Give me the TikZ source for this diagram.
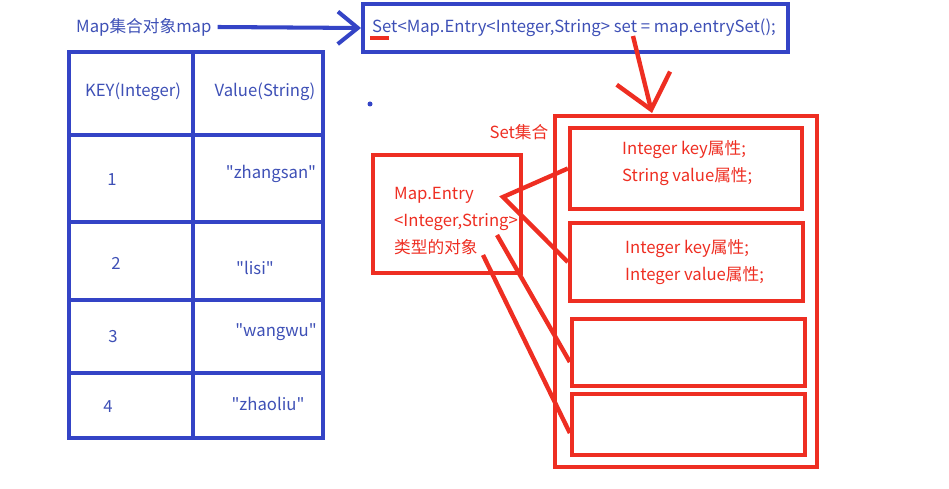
\documentclass[tikz,border=0pt]{standalone}
\usepackage{fontspec}
\setmainfont{Noto Sans CJK SC}
\usetikzlibrary{arrows.meta}
\definecolor{penblue}{RGB}{52,68,198}
\definecolor{inkblue}{RGB}{62,80,182}
\definecolor{penred}{RGB}{238,46,34}
\tikzset{
  bline/.style={penblue,line width=2.3pt},
  rline/.style={penred,line width=2.5pt},
  rbox/.style={draw=penred,line width=2.5pt,inner sep=0pt},
  btext/.style={text=inkblue},
  rtext/.style={text=penred}
}
\begin{document}
\begin{tikzpicture}[x=0.02cm,y=-0.02cm,every node/.style={font=\fontsize{9.5}{15.4}\selectfont}]
            \useasboundingbox (0,0) rectangle (949,489);

            \draw[bline] (69,52) rectangle (323,438);
            \draw[bline] (193,52) -- (193,438);
            \draw[bline] (69,135) -- (323,135);
            \draw[bline] (69,222) -- (325,222);
            \draw[bline] (69,300) -- (325,300);
            \draw[bline] (69,373) -- (323,373);

            \node[btext] (k_0) at (133,92) {KEY(Integer)};
            \node[btext] (v_0) at (265,92) {Value(String)};
            \node[btext] (k_1) at (112,180) {1};
            \node[btext] (v_1) at (271,174) {\textquotedbl zhangsan\textquotedbl};
            \node[btext] (k_2) at (116,263) {2};
            \node[btext] (v_2) at (255,268) {\textquotedbl lisi\textquotedbl};
            \node[btext] (k_3) at (113,337) {3};
            \node[btext] (v_3) at (276,332) {\textquotedbl wangwu\textquotedbl};
            \node[btext] (k_4) at (108,407) {4};
            \node[btext] (v_4) at (268,404) {\textquotedbl zhaoliu\textquotedbl};

            \node[btext,anchor=west] (map) at (70,27) {Map集合对象map};
            \node[draw=penblue,line width=2.3pt,minimum width=8.5cm,minimum height=0.96cm,inner sep=0pt] (code) at (575.5,28) {};
            \node[btext,anchor=west] (codetxt) at (366,28) {Set<Map.Entry<Integer,String> set = map.entrySet();};
            \draw[bline,-{Straight Barb[length=0.4cm,width=0.65cm]}] (map.east) -- (code.west);
            \draw[penred,line width=2pt] (370,38) -- (389,38);
            \fill[penblue] (370,104) circle (0.05cm);

            \node[rbox,minimum width=5.24cm,minimum height=7.02cm] (set) at (686,291.5) {};
            \node[rbox,minimum width=4.64cm,minimum height=1.62cm] (e_1) at (686,168.5) {};
            \node[rbox,minimum width=4.66cm,minimum height=1.56cm] (e_2) at (686.5,262) {};
            \node[rbox,minimum width=4.66cm,minimum height=1.34cm] (e_3) at (688.5,352.5) {};
            \node[rbox,minimum width=4.66cm,minimum height=1.22cm] (e_4) at (688.5,424.5) {};
            \node[rtext] (setlbl) at (519,132) {Set集合};
            \node[rtext,align=left,anchor=west] (a_1) at (616,163) {Integer key属性;\\String value属性;};
            \node[rtext,align=left,anchor=west] (a_2) at (619,262) {Integer key属性;\\Integer value属性;};

            \coordinate (s) at (633,36);
            \coordinate (settop) at (652,113);
            \draw[rline,-{Straight Barb[length=0.65cm,width=1.1cm]}] (s) -- (settop);

            \node[rbox,minimum width=2.96cm,minimum height=2.36cm] (entry) at (447,214) {};
            \node[rtext,align=left,anchor=west] (entrytxt) at (388,221) {Map.Entry\\<Integer,String>\\类型的对象};

            \coordinate (m_1) at (503,197);
            \coordinate (m_3) at (497,235);
            \coordinate (m_4) at (483,255);
            \draw[rline] (e_1.west) -- (m_1) -- (e_2.west);
            \draw[rline] (m_3) -- ([yshift=-0.19cm]e_3.west);
            \draw[rline] (m_4) -- ([yshift=-0.17cm]e_4.west);
          \end{tikzpicture}
\end{document}
